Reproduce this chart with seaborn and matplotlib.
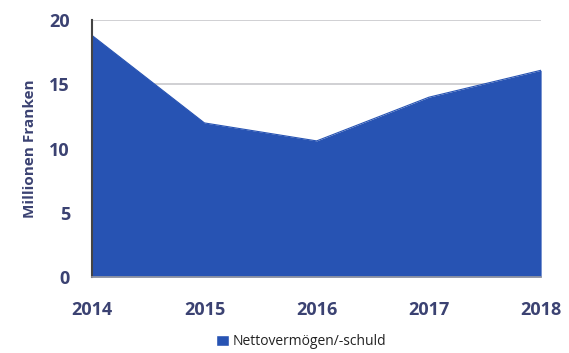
import matplotlib
matplotlib.use("Agg")
import matplotlib.pyplot as plt
import seaborn as sns
from matplotlib.patches import Patch

years = [2014, 2015, 2016, 2017, 2018]
net_assets = [18.8, 12.0, 10.6, 14.0, 16.1]
yticks = [0, 5, 10, 15, 20]
series_label = "Nettovermögen/-schuld"

sns.set_style("white")
plt.rcParams["font.family"] = ["Open Sans", "DejaVu Sans"]

text_col = "#3b4272"
fill_col = "#2753b3"

fig = plt.figure(figsize=(5.69, 3.53), dpi=100)
ax = fig.add_axes([0.162, 0.215, 0.789, 0.728])

sns.lineplot(x=years, y=net_assets, color=fill_col, linewidth=0.8, ax=ax)
ax.fill_between(years, net_assets, 0, color=fill_col, linewidth=0)

ax.set_xlim(years[0], years[-1])
ax.set_ylim(0, 20)
ax.set_yticks(yticks)
ax.set_xticks(years)
ax.yaxis.grid(True, color="#c8c8cc", linewidth=1.2)
ax.set_axisbelow(True)

for side in ["top", "right"]:
    ax.spines[side].set_visible(False)
ax.spines["left"].set_color("#444444")
ax.spines["left"].set_linewidth(1.5)
ax.spines["bottom"].set_color("#9a9aa0")
ax.spines["bottom"].set_linewidth(1.2)

ax.tick_params(axis="x", length=5, width=1.2, color="#666666", pad=12,
               labelsize=13, labelcolor=text_col)
ax.tick_params(axis="y", length=0, pad=16, labelsize=13, labelcolor=text_col)
for lab in ax.get_xticklabels() + ax.get_yticklabels():
    lab.set_fontweight("bold")

ax.set_ylabel("Millionen Franken", fontsize=11, fontweight="bold",
              color=text_col, labelpad=9)

fig.legend(handles=[Patch(facecolor=fill_col, label=series_label)],
           loc="lower center", bbox_to_anchor=(0.53, -0.025), frameon=False,
           fontsize=10, handlelength=0.9, handleheight=0.9, handletextpad=0.3,
           labelcolor="#222222")

fig.savefig("out.png", dpi=100)
